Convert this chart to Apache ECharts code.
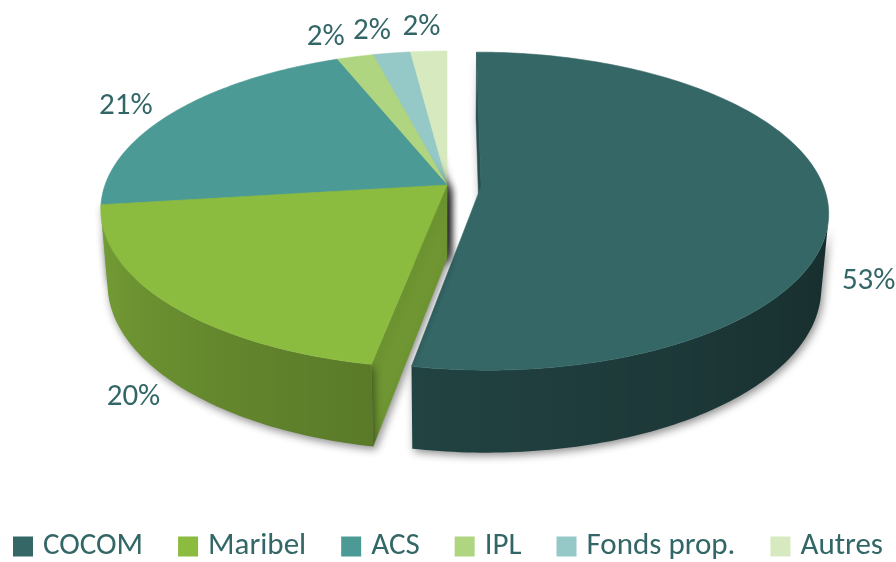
<!DOCTYPE html>
<html>
<head>
<meta charset="utf-8">
<script src="https://cdn.jsdelivr.net/npm/echarts@6/dist/echarts.min.js"></script>
<style>
  html, body { margin: 0; padding: 0; background: #fff; }
  #chart { width: 896px; height: 562px; }
</style>
</head>
<body>
<div id="chart"></div>
<script>
// data
const categories = ['COCOM', 'Maribel', 'ACS', 'IPL', 'Fonds prop.', 'Autres'];
const shares = [53, 20, 21, 2, 2, 2];
const labels = ['53%', '20%', '21%', '2%', '2%', '2%'];
const colors = ['#346766', '#8bbc3f', '#4b9a95', '#b0d580', '#94c9c8', '#d7e9bf'];
const exploded = [0.1, 0, 0, 0, 0, 0];

const textColor = '#336666';
const fontFamily = 'Carlito, Lato, sans-serif';

// 3d view settings (pixels / radius units)
const cx = 447, cy = 185, scale = 342;
const tilt = 26.9 * Math.PI / 180;
const camDist = 5.75;
const thick = 0.245;
const cam = [0, camDist * Math.sin(tilt), camDist * Math.cos(tilt)];

const total = shares.reduce((a, b) => a + b, 0);

function project(v) {
  const depth = camDist - v[1] * Math.sin(tilt) - v[2] * Math.cos(tilt);
  const f = camDist / depth;
  return [cx + scale * v[0] * f, cy - scale * (v[1] * Math.cos(tilt) - v[2] * Math.sin(tilt)) * f];
}

function facing(n, p) {
  return (cam[0] - p[0]) * n[0] + (cam[1] - p[1]) * n[1] + (cam[2] - p[2]) * n[2] > 0;
}

function shade(hex, b) {
  const r = parseInt(hex.slice(1, 3), 16), g = parseInt(hex.slice(3, 5), 16), bl = parseInt(hex.slice(5, 7), 16);
  const c = x => Math.max(0, Math.min(255, Math.round(x * b)));
  return 'rgb(' + c(r) + ',' + c(g) + ',' + c(bl) + ')';
}

// wall brightness by angle (light from the left)
function wallLight(phi) {
  let t = (phi * 180 / Math.PI - 90) / 180;
  t = Math.max(0, Math.min(1, t));
  return 0.42 + 0.46 * Math.pow(t, 1.2);
}

function sliceGeom(i) {
  let cum = 0;
  for (let j = 0; j < i; j++) cum += shares[j];
  const a1 = cum / total * Math.PI * 2;
  const a2 = (cum + shares[i]) / total * Math.PI * 2;
  const mid = (a1 + a2) / 2;
  const e = exploded[i];
  return { a1, a2, mid, ox: e * Math.sin(mid), oz: -e * Math.cos(mid) };
}

// draw order: far slices first
const order = categories.map((c, i) => {
  const g = sliceGeom(i);
  const p = [g.ox + 0.5 * Math.sin(g.mid), -thick / 2, g.oz - 0.5 * Math.cos(g.mid)];
  const d = Math.hypot(cam[0] - p[0], cam[1] - p[1], cam[2] - p[2]);
  return { i, d };
}).sort((a, b) => b.d - a.d).map(o => o.i);

const shadow = { shadowBlur: 8, shadowColor: 'rgba(0,0,0,0.45)', shadowOffsetX: 2, shadowOffsetY: 3 };

function buildSlice(i, value) {
  const g = sliceGeom(i);
  const { a1, a2, mid, ox, oz } = g;
  const base = colors[i];
  const rim = (phi, Y) => [ox + Math.sin(phi), Y, oz - Math.cos(phi)];
  const steps = Math.max(2, Math.ceil((a2 - a1) / (Math.PI / 180)));
  const children = [];

  // cut faces
  [[a1, [-Math.cos(a1), 0, -Math.sin(a1)]], [a2, [Math.cos(a2), 0, Math.sin(a2)]]].forEach(([a, n]) => {
    const p = [ox + 0.5 * Math.sin(a), -thick / 2, oz - 0.5 * Math.cos(a)];
    if (!facing(n, p)) return;
    const col = shade(base, 0.8);
    children.push({
      type: 'polygon', z2: 1,
      shape: { points: [project([ox, 0, oz]), project(rim(a, 0)), project(rim(a, -thick)), project([ox, -thick, oz])] },
      style: Object.assign({ fill: col, stroke: col, lineWidth: 0.5 }, shadow)
    });
  });

  // outer wall
  const vis = [];
  for (let k = 0; k <= steps; k++) {
    const phi = a1 + (a2 - a1) * k / steps;
    if (facing([Math.sin(phi), 0, -Math.cos(phi)], rim(phi, -thick / 2))) vis.push(phi);
  }
  if (vis.length >= 2) {
    const topPts = vis.map(phi => project(rim(phi, 0)));
    const botPts = vis.map(phi => project(rim(phi, -thick)));
    const xs = topPts.map(p => p[0]);
    const xmin = Math.min(...xs), xmax = Math.max(...xs);
    const stops = vis.map((phi, k) => ({
      offset: xmax > xmin ? (topPts[k][0] - xmin) / (xmax - xmin) : 0,
      color: shade(base, wallLight(phi))
    })).sort((a, b) => a.offset - b.offset);
    children.push({
      type: 'polygon', z2: 2,
      shape: { points: topPts.concat(botPts.reverse()) },
      style: Object.assign({
        fill: { type: 'linear', x: xmin, y: 0, x2: xmax, y2: 0, global: true, colorStops: stops }
      }, shadow)
    });
  }

  // top face
  const top = [project([ox, 0, oz])];
  for (let k = 0; k <= steps; k++) top.push(project(rim(a1 + (a2 - a1) * k / steps, 0)));
  children.push({
    type: 'polygon', z2: 3,
    shape: { points: top },
    style: { fill: base, stroke: base, lineWidth: 0.6 }
  });

  // label
  const front = Math.cos(mid) < 0;
  const anchor = project(rim(mid, front ? -thick : 0));
  const apex = project([ox, 0, oz]);
  let ux = anchor[0] - apex[0], uy = anchor[1] - apex[1];
  const len = Math.hypot(ux, uy) || 1;
  ux /= len; uy /= len;
  children.push({
    type: 'text', z2: 10,
    style: {
      text: labels[i],
      x: anchor[0] + ux * 50,
      y: anchor[1] + uy * 24,
      fill: textColor,
      fontSize: 31,
      fontFamily: fontFamily,
      align: 'center',
      verticalAlign: 'middle'
    }
  });

  return { type: 'group', children };
}

const chart = echarts.init(document.getElementById('chart'));

const option = {
  animation: false,
  backgroundColor: '#fff',
  legend: {
    data: categories,
    top: 526,
    left: 'center',
    icon: 'rect',
    itemWidth: 20,
    itemHeight: 20,
    itemGap: 35,
    textStyle: { fontSize: 31, color: textColor, fontFamily: fontFamily, padding: [0, 0, 0, 5] }
  },
  series: categories.map((name, i) => ({
    type: 'custom',
    name: name,
    coordinateSystem: 'none',
    z: 2 + order.indexOf(i),
    itemStyle: { color: colors[i] },
    data: [shares[i]],
    renderItem: (params, api) => buildSlice(i, api.value(0))
  }))
};

chart.setOption(option);
</script>
</body>
</html>
